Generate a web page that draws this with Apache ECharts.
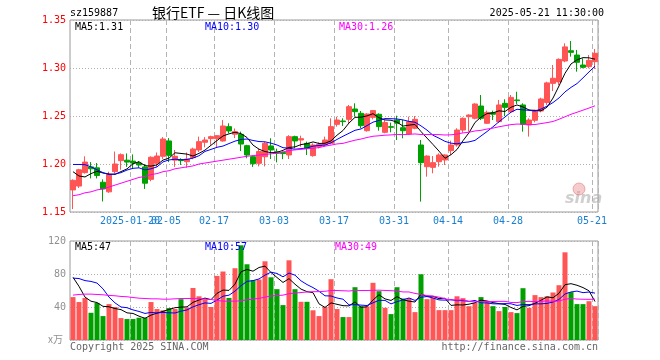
<!DOCTYPE html>
<html><head><meta charset="utf-8">
<script src="https://cdn.jsdelivr.net/npm/echarts@6/dist/echarts.min.js"></script>
<style>html,body{margin:0;padding:0;background:#fff}#c{width:660px;height:360px}</style>
</head><body><div id="c"></div>
<script>
// ---- data ----
const dates = [
 '2025-01-06','2025-01-07','2025-01-08','2025-01-09','2025-01-10',
 '2025-01-13','2025-01-14','2025-01-15','2025-01-16','2025-01-17',
 '2025-01-20','2025-01-21','2025-01-22','2025-01-23','2025-01-24',
 '2025-01-27','2025-02-05','2025-02-06','2025-02-07',
 '2025-02-10','2025-02-11','2025-02-12','2025-02-13','2025-02-14',
 '2025-02-17','2025-02-18','2025-02-19','2025-02-20','2025-02-21',
 '2025-02-24','2025-02-25','2025-02-26','2025-02-27','2025-02-28',
 '2025-03-03','2025-03-04','2025-03-05','2025-03-06','2025-03-07',
 '2025-03-10','2025-03-11','2025-03-12','2025-03-13','2025-03-14',
 '2025-03-17','2025-03-18','2025-03-19','2025-03-20','2025-03-21',
 '2025-03-24','2025-03-25','2025-03-26','2025-03-27','2025-03-28',
 '2025-03-31','2025-04-01','2025-04-02','2025-04-03',
 '2025-04-07','2025-04-08','2025-04-09','2025-04-10','2025-04-11',
 '2025-04-14','2025-04-15','2025-04-16','2025-04-17','2025-04-18',
 '2025-04-21','2025-04-22','2025-04-23','2025-04-24','2025-04-25',
 '2025-04-28','2025-04-29','2025-04-30',
 '2025-05-06','2025-05-07','2025-05-08','2025-05-09',
 '2025-05-12','2025-05-13','2025-05-14','2025-05-15','2025-05-16',
 '2025-05-19','2025-05-20','2025-05-21'];
const opens = [
 1.173,1.177,1.191,1.197,1.196,1.181,1.171,1.192,1.2035,1.204,
 1.203,1.201,1.197,1.184,1.2007,1.208,1.224,1.204,1.2045,1.2024,
 1.2066,1.2146,1.2226,1.2264,1.2264,1.224,1.2389,1.231,1.2309,1.2191,
 1.2076,1.2007,1.2076,1.2188,1.2128,1.212,1.2094,1.2285,1.225,1.2215,
 1.2087,1.2181,1.2198,1.2215,1.2413,1.2448,1.2465,1.2573,1.2528,1.2347,
 1.2486,1.2518,1.233,1.2389,1.2458,1.2378,1.2313,1.2372,1.2198,1.1972,
 1.1965,1.2024,1.2042,1.2139,1.2198,1.2354,1.2493,1.2476,1.2604,1.2424,
 1.2535,1.2441,1.2632,1.2545,1.2667,1.2615,1.2406,1.2455,1.2552,1.264,
 1.284,1.2855,1.3073,1.318,1.3135,1.3031,1.3014,1.3066];
const closes = [
 1.183,1.194,1.202,1.195,1.188,1.174,1.189,1.200,1.2097,1.202,
 1.201,1.199,1.180,1.207,1.2083,1.226,1.209,1.208,1.2035,1.2052,
 1.2156,1.2233,1.225,1.2285,1.2295,1.2396,1.2344,1.2337,1.2208,1.2094,
 1.2003,1.213,1.2215,1.2146,1.2111,1.2108,1.2285,1.224,1.2264,1.2163,
 1.2198,1.2205,1.225,1.2389,1.2458,1.2441,1.2597,1.2545,1.2399,1.2521,
 1.2556,1.2389,1.2431,1.2382,1.2424,1.2347,1.2441,1.2465,1.2014,1.2083,
 1.2014,1.2094,1.2094,1.2198,1.2354,1.2476,1.251,1.2625,1.2476,1.2538,
 1.2518,1.2615,1.259,1.2694,1.266,1.2413,1.2458,1.256,1.2677,1.2845,
 1.2893,1.309,1.322,1.3163,1.3059,1.3007,1.308,1.3153];
const lows = [
 1.153,1.175,1.190,1.185,1.185,1.161,1.170,1.190,1.194,1.197,
 1.1955,1.196,1.174,1.182,1.197,1.205,1.202,1.197,1.199,1.196,
 1.205,1.2125,1.2174,1.220,1.2174,1.2233,1.232,1.227,1.2135,1.206,
 1.197,1.1975,1.1975,1.2052,1.2017,1.205,1.2052,1.2163,1.218,1.2094,
 1.2076,1.2163,1.2181,1.2205,1.2389,1.2396,1.2424,1.2493,1.2372,1.2337,
 1.2465,1.2347,1.232,1.233,1.225,1.2268,1.2302,1.2362,1.1608,1.1868,
 1.1903,1.1972,1.199,1.2094,1.2181,1.2326,1.2337,1.2465,1.2458,1.2417,
 1.2458,1.2431,1.25,1.2535,1.2625,1.2337,1.2285,1.2434,1.2538,1.2615,
 1.276,1.282,1.306,1.3118,1.2962,1.2997,1.2997,1.299];
const highs = [
 1.184,1.195,1.208,1.202,1.201,1.184,1.192,1.213,1.211,1.211,
 1.210,1.203,1.200,1.208,1.212,1.228,1.227,1.2146,1.206,1.212,
 1.217,1.2285,1.228,1.2295,1.230,1.2458,1.2424,1.237,1.2337,1.220,
 1.209,1.216,1.223,1.2268,1.216,1.213,1.230,1.2295,1.2295,1.2233,
 1.2215,1.2226,1.2285,1.2476,1.2493,1.2476,1.2615,1.2632,1.2552,1.2528,
 1.2563,1.2528,1.2458,1.2431,1.2503,1.2458,1.2493,1.250,1.225,1.209,
 1.2083,1.2111,1.2101,1.2243,1.2372,1.2486,1.2517,1.2632,1.2719,1.2556,
 1.2556,1.2667,1.2674,1.2719,1.2753,1.2632,1.2476,1.2565,1.269,1.2857,
 1.3031,1.31,1.3257,1.3281,1.3188,1.31,1.3135,1.3198];
const volumes = [
 52,46,51,33,45,29,43.5,40,26.6,25.4,
 25.4,27,27,46,37.5,36,38.7,37.5,49.5,39.5,
 63,53,49,40,77.7,83,51,87,114.8,91.8,
 72.5,73.3,95.4,76,61.6,42.3,96.6,61.6,46.3,46.3,
 36,29,40,73.7,37.5,27.8,27.8,64,41,40.7,
 69.3,59.2,39,31.4,64,50.3,50.7,33.8,79.7,49.5,
 51.5,36.2,36.2,36.2,53,50.7,41,45,52,47.5,
 41,35,40,33.8,32.6,62.8,39,54.4,52,53,
 57.6,66.4,106.3,58,43.5,43.5,47,41];
// moving-average values at the start of the window (their history lies before the chart)
const ma5Start = [1.192,1.1875,1.1865,1.190];
const ma10Start = [1.1995,1.1995,1.1993,1.197,1.194,1.191,1.189,1.1895,1.191];
const ma30Start = [1.167,1.168,1.170,1.171,1.173,1.174,1.176,1.178,1.180,1.182,
 1.184,1.186,1.187,1.189,1.190,1.192,1.193,1.195,1.196,1.197,
 1.198,1.200,1.201,1.202,1.203,1.204,1.205,1.206,1.207];
const vma5Start = [76,65,52,47];
const vma10Start = [75,74.5,72,71,69,62,52,45,40];
const vma30Start = [54.4,55.2,55.6,55.6,55.2,54.8,54,53.6,52.8,52.4,
 51.5,50.7,50.3,49.9,49.9,49.5,49.5,49.9,50.3,50.3,
 50.3,49.9,49.5,49.1,47.9,47.1,47.1,47.1,47.5];
const priceTicks = [1.15,1.20,1.25,1.30,1.35];
const volTicks = [0,40,80,120];
const tickDates = ['2025-01-20','2025-02-05','2025-02-17','2025-03-03','2025-03-17','2025-03-31','2025-04-14','2025-04-28','2025-05-21'];
const tickLabels = ['2025-01-20','02-05','02-17','03-03','03-17','03-31','04-14','04-28','05-21'];
const priceLegend = ['MA5:1.31','MA10:1.30','MA30:1.26'];
const volLegend = ['MA5:47','MA10:57','MA30:49'];
const volUnit = 'x万';
const header = {code:'sz159887', title:'银行ETF — 日K线图', time:'2025-05-21 11:30:00'};

// ---- build ----
function movingAvg(vals, n, start) {
  return vals.map((v, i) => {
    if (i < n - 1) return start[i];
    let s = 0; for (let k = i - n + 1; k <= i; k++) s += vals[k];
    return +(s / n).toFixed(4);
  });
}
const RED = '#ff5555', GREEN = '#00a000';
const MONO = 'DejaVu Sans Mono';
const tickIdx = new Map(tickDates.map((d, j) => [dates.indexOf(d), tickLabels[j]]));
const firstTick = dates.indexOf(tickDates[0]);
const kData = dates.map((d, i) => [opens[i], closes[i], lows[i], highs[i]]);
const volData = volumes.map((v, i) => ({value: v, itemStyle: {color: closes[i] >= opens[i] ? RED : GREEN}}));
const dashSplit = {show: true, interval: (i) => tickIdx.has(i), lineStyle: {color: '#b4b4b4', type: [5, 3], width: 1}};
const dotSplit = {show: true, lineStyle: {color: '#b0b0b0', type: [1, 2], width: 1}};
const lineS = (name, data, color, xi, yi) => ({name, type: 'line', data, xAxisIndex: xi, yAxisIndex: yi,
  showSymbol: false, symbol: 'none', lineStyle: {color, width: 1}, itemStyle: {color}, z: 5, silent: true});
const txt = (x, y, text, fill, extra) => ({type: 'text', x, y, style: Object.assign({text, fill, font: '10px "' + MONO + '"', textVerticalAlign: 'middle'}, extra || {}), z: 20});

const chart = echarts.init(document.getElementById('c'), null, {renderer: 'canvas'});
const graphics = [
    txt(70, 13, header.code, '#000'),
    {type: 'text', x: 152, y: 13, z: 20, style: {text: header.title, fill: '#000', font: '14px "Noto Sans CJK SC"', textVerticalAlign: 'middle'}},
    txt(604, 13, header.time, '#000', {textAlign: 'right'}),
    txt(75, 27, priceLegend[0], '#000'),
    txt(205, 27, priceLegend[1], '#0000ff'),
    txt(339, 27, priceLegend[2], '#ff00ff'),
    txt(75, 247, volLegend[0], '#000'),
    txt(205, 247, volLegend[1], '#0000ff'),
    txt(335, 247, volLegend[2], '#ff00ff'),
    txt(48, 339, volUnit, '#909090', {font: '10px "Noto Sans CJK SC"'}),
    txt(70, 347, 'Copyright 2025 SINA.COM', '#666666'),
    txt(598, 347, 'http://finance.sina.com.cn', '#666666', {textAlign: 'right'}),
    {type: 'text', x: 565, y: 199, z: 1, style: {text: 'sina', fill: 'rgba(175,175,175,0.6)', font: 'italic bold 16px "DejaVu Sans"', textVerticalAlign: 'middle'}},
    {type: 'circle', shape: {cx: 579, cy: 189, r: 6}, z: 1, style: {fill: 'rgba(235,140,140,0.45)', stroke: 'rgba(220,110,110,0.5)', lineWidth: 1}}
];
chart.setOption({
  animation: false,
  backgroundColor: '#fff',
  grid: [
    {left: 70, top: 20, width: 528, height: 192, show: true, borderColor: '#9a9a9a', borderWidth: 1, outerBoundsMode: 'none', containLabel: false},
    {left: 70, top: 241, width: 528, height: 99, show: true, borderColor: '#9a9a9a', borderWidth: 1, outerBoundsMode: 'none', containLabel: false}
  ],
  xAxis: [
    {type: 'category', data: dates, gridIndex: 0, boundaryGap: true,
     axisLine: {show: false}, axisTick: {show: false},
     axisLabel: {interval: (i) => tickIdx.has(i) && i !== firstTick, formatter: (v) => tickIdx.get(dates.indexOf(v)) || '',
       color: '#1a7fd0', fontFamily: MONO, fontSize: 10, margin: 4, padding: [0, 6, 0, 0], hideOverlap: false},
     splitLine: dashSplit},
    {type: 'category', data: dates, gridIndex: 1, boundaryGap: true,
     axisLine: {show: false}, axisTick: {show: false}, axisLabel: {show: false}, splitLine: dashSplit}
  ],
  yAxis: [
    {type: 'value', gridIndex: 0, min: priceTicks[0], max: priceTicks[priceTicks.length - 1], interval: 0.05,
     axisLine: {show: false}, axisTick: {show: false},
     axisLabel: {color: '#ff0000', fontFamily: MONO, fontSize: 10, margin: 4, formatter: (v) => v.toFixed(2)},
     splitLine: dotSplit},
    {type: 'value', gridIndex: 1, min: volTicks[0], max: volTicks[volTicks.length - 1], interval: 40,
     axisLine: {show: false}, axisTick: {show: false},
     axisLabel: {color: '#909090', fontFamily: MONO, fontSize: 10, margin: 4, formatter: (v) => v === 0 ? '' : String(v)},
     splitLine: dotSplit}
  ],
  series: [
    {type: 'candlestick', data: kData, xAxisIndex: 0, yAxisIndex: 0, barWidth: 5, silent: true,
     itemStyle: {color: RED, color0: GREEN, borderColor: RED, borderColor0: GREEN, borderWidth: 1}},
    lineS('MA5', movingAvg(closes, 5, ma5Start), '#000000', 0, 0),
    lineS('MA10', movingAvg(closes, 10, ma10Start), '#0000ff', 0, 0),
    lineS('MA30', movingAvg(closes, 30, ma30Start), '#ff00ff', 0, 0),
    {type: 'bar', data: volData, xAxisIndex: 1, yAxisIndex: 1, barWidth: 5, silent: true},
    lineS('VMA5', movingAvg(volumes, 5, vma5Start), '#000000', 1, 1),
    lineS('VMA10', movingAvg(volumes, 10, vma10Start), '#0000ff', 1, 1),
    lineS('VMA30', movingAvg(volumes, 30, vma30Start), '#ff00ff', 1, 1)
  ],
  graphic: graphics
});
// first date label overlaps its neighbour in the reference; place it through the axis scale
const fx = chart.convertToPixel({xAxisIndex: 0}, dates[firstTick]) - 3;
const fy = chart.convertToPixel({yAxisIndex: 0}, priceTicks[0]) + 9;
graphics.push(txt(fx, fy, tickLabels[0], '#1a7fd0', {textAlign: 'center'}));
chart.setOption({graphic: graphics});
</script></body></html>
